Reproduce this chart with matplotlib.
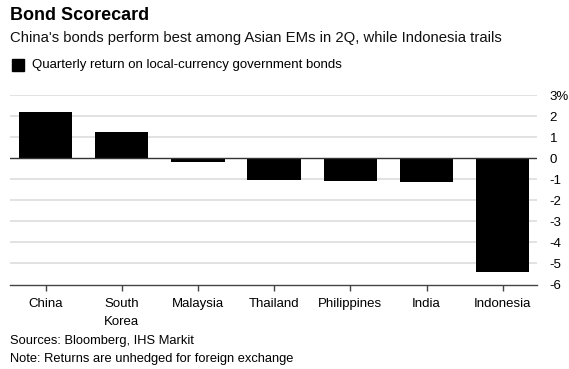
import matplotlib.pyplot as plt
import matplotlib.patches as mpatches
import numpy as np

plt.rcParams['font.family'] = ['Liberation Sans', 'DejaVu Sans']

countries = ['China', 'South\nKorea', 'Malaysia', 'Thailand', 'Philippines', 'India', 'Indonesia']
returns = [2.2, 1.24, -0.19, -1.03, -1.08, -1.14, -5.43]
yticks = [3, 2, 1, 0, -1, -2, -3, -4, -5, -6]
ytick_labels = ['3%', '2', '1', '0', '-1', '-2', '-3', '-4', '-5', '-6']

fig = plt.figure(figsize=(5.69, 3.69), dpi=100)
ax = fig.add_axes([10 / 569, 1 - 284.5 / 369, 527 / 569, 189.5 / 369])

x = np.arange(len(countries))
ax.bar(x, returns, width=0.7, color='black', zorder=3)

ax.set_xlim(-0.467, 6.45)
ax.set_ylim(-6, 3)
ax.set_yticks(yticks)
ax.set_yticklabels(ytick_labels)
ax.yaxis.tick_right()
ax.tick_params(axis='y', length=0, pad=9, labelsize=9.5, colors='black')
ax.set_xticks(x)
ax.set_xticklabels(countries, fontsize=9.5, linespacing=1.65)
ax.tick_params(axis='x', length=4, width=1, color='#444444', pad=6)

for v in yticks:
    if v == 0:
        ax.axhline(0, color='#333333', linewidth=1, zorder=4)
    elif v != -6:
        ax.axhline(v, color='#dddddd', linewidth=1.2, zorder=1)

for s in ['top', 'left', 'right']:
    ax.spines[s].set_visible(False)
ax.spines['bottom'].set_color('#444444')
ax.spines['bottom'].set_linewidth(1)

fig.text(10 / 569, 1 - 16 / 369, 'Bond Scorecard', fontsize=13, fontweight='bold', va='center', ha='left')
fig.text(10 / 569, 1 - 38 / 369, "China's bonds perform best among Asian EMs in 2Q, while Indonesia trails",
         fontsize=10.7, va='center', ha='left', color='#111111')
fig.patches.append(mpatches.Rectangle((12 / 569, 1 - 71 / 369), 12 / 569, 12 / 369,
                                      transform=fig.transFigure, color='black'))
fig.text(32 / 569, 1 - 65 / 369, 'Quarterly return on local-currency government bonds',
         fontsize=9.5, va='center', ha='left')
fig.text(10 / 569, 1 - 341 / 369, 'Sources: Bloomberg, IHS Markit', fontsize=9.3, va='center', ha='left')
fig.text(10 / 569, 1 - 359 / 369, 'Note: Returns are unhedged for foreign exchange', fontsize=9.3, va='center', ha='left')

fig.savefig('out.png', dpi=100)
